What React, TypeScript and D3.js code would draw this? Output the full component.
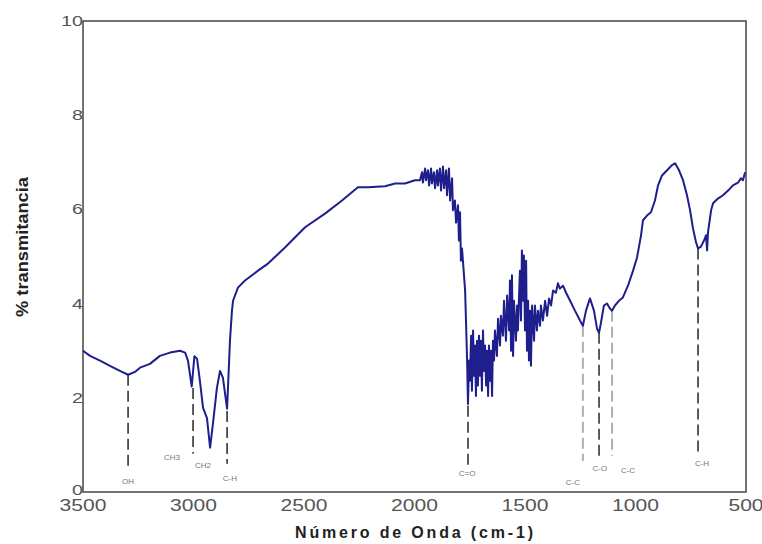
import React from "react";
import * as d3 from "d3";

// spectrum, [wavenumber cm-1, % transmitance]
const highRegion: [number, number][] = [
  [3500, 3.0], [3468, 2.89], [3423, 2.79], [3378, 2.68], [3333, 2.57], [3296, 2.49],
  [3265, 2.55], [3242, 2.64], [3197, 2.72], [3152, 2.89], [3106, 2.96], [3061, 3.0],
  [3038, 2.96], [3025, 2.79], [3008, 2.24], [2996, 2.88], [2984, 2.83], [2971, 2.36],
  [2957, 1.79], [2939, 1.57], [2925, 0.94], [2912, 1.45], [2894, 2.21], [2880, 2.57],
  [2867, 2.43], [2848, 1.77], [2844, 2.21], [2835, 3.21], [2826, 3.85], [2821, 4.06],
  [2799, 4.34], [2767, 4.49], [2708, 4.7], [2663, 4.85], [2586, 5.19], [2495, 5.62],
  [2405, 5.91], [2328, 6.19], [2256, 6.47], [2210, 6.47], [2133, 6.49], [2088, 6.55],
  [2043, 6.55], [1998, 6.62],
];

const carbonylRegion: [number, number][] = [
  [1975, 6.62], [1966, 6.79], [1962, 6.57], [1952, 6.87], [1948, 6.62], [1939, 6.83],
  [1934, 6.51], [1925, 6.87], [1921, 6.55], [1912, 6.79], [1907, 6.45], [1898, 6.83],
  [1894, 6.51], [1885, 6.87], [1880, 6.4], [1871, 6.91], [1866, 6.45], [1857, 6.83],
  [1853, 6.3], [1844, 6.87], [1839, 6.19], [1830, 6.66], [1826, 5.98], [1817, 6.19],
  [1812, 5.72], [1803, 6.09], [1799, 5.34], [1794, 5.94], [1790, 4.91], [1785, 5.17],
  [1776, 4.6], [1771, 4.28], [1767, 3.64], [1762, 2.79], [1758, 1.87], [1753, 2.79],
  [1749, 2.36], [1744, 3.32], [1740, 2.15], [1735, 3.43], [1731, 2.47], [1726, 3.11],
  [1722, 2.04], [1717, 3.21], [1713, 2.26], [1708, 3.32], [1704, 2.47], [1699, 3.21],
  [1695, 2.15], [1690, 3.43], [1686, 2.57], [1681, 3.11], [1676, 2.26], [1672, 3.0],
  [1667, 2.04], [1663, 3.11], [1658, 2.36], [1654, 3.0], [1649, 2.04], [1645, 3.21],
  [1640, 2.79], [1636, 3.43], [1627, 2.89], [1622, 3.68], [1613, 3.11], [1609, 3.74],
  [1600, 3.32], [1595, 4.06], [1586, 3.21], [1581, 4.17], [1572, 3.43], [1568, 4.49],
  [1563, 3.0], [1559, 4.6], [1554, 2.89], [1550, 4.06], [1541, 3.21], [1536, 3.96],
  [1532, 3.43], [1523, 4.7], [1518, 3.64], [1514, 5.13], [1509, 4.06], [1505, 5.02],
  [1500, 3.43], [1495, 4.91], [1491, 3.0], [1486, 4.06], [1482, 2.79], [1477, 3.85],
  [1473, 2.68], [1468, 3.96], [1459, 3.21], [1455, 3.96], [1446, 3.43], [1441, 3.85],
  [1432, 3.53], [1428, 3.96], [1419, 3.64], [1409, 4.06], [1400, 3.74], [1391, 4.11],
  [1382, 3.96], [1373, 4.28], [1360, 4.23], [1351, 4.43],
];

const fingerprintRegion: [number, number][] = [
  [1342, 4.32], [1328, 4.38], [1314, 4.23], [1296, 4.06], [1274, 3.85], [1251, 3.64],
  [1238, 3.53], [1224, 3.85], [1206, 4.11], [1188, 3.85], [1174, 3.47], [1165, 3.38],
  [1156, 3.6], [1143, 3.96], [1129, 4.0], [1115, 3.89], [1106, 3.85], [1093, 3.96],
  [1075, 4.06], [1057, 4.13], [1034, 4.38], [1011, 4.7], [993, 4.98], [975, 5.45],
  [966, 5.77], [948, 5.87], [930, 5.94], [912, 6.19], [898, 6.51], [880, 6.72],
  [857, 6.83], [835, 6.94], [821, 6.98], [803, 6.83], [785, 6.62], [767, 6.3],
  [753, 5.98], [740, 5.6], [726, 5.3], [717, 5.17], [704, 5.21], [690, 5.34],
  [681, 5.45], [676, 5.13], [672, 5.51], [658, 5.98], [649, 6.13], [627, 6.23],
  [604, 6.3], [581, 6.4], [559, 6.51], [536, 6.57], [523, 6.66], [514, 6.62], [504, 6.79],
];

const xTicks = [3500, 3000, 2500, 2000, 1500, 1000, 500];
const yTicks = [0, 2, 4, 6, 8, 10];

// band assignments: dashed marker line and its label
const bandNames = ["OH", "CH3", "CH2", "C-H", "C=O", "C-C", "C-O", "C-C", "C-H"];
const bandLineWn = [3296, 3002, null, 2848, 1758, 1238, 1165, 1106, 717];
const bandLineTop = [2.49, 2.21, null, 1.72, 1.83, 3.53, 3.38, 3.85, 5.17];
const bandLineBottom = [0.45, 0.81, null, 0.6, 0.55, 0.66, 0.77, 0.77, 0.77];
const bandLabelWn = [3296, 3097, 2957, 2835, 1762, 1283, 1161, 1034, 699];
const bandLabelT = [0.21, 0.72, 0.55, 0.28, 0.38, 0.19, 0.49, 0.45, 0.6];
const lightBands = [5, 7];

const W = 762;
const H = 544;
const font = "Arial, 'Liberation Sans', sans-serif";

export default function App() {
  const x = d3.scaleLinear().domain([3500, 500]).range([83, 746]);
  const y = d3.scaleLinear().domain([0, 10]).range([492, 21]);

  const spectrum = [...highRegion, ...carbonylRegion, ...fingerprintRegion];
  const line = d3
    .line<[number, number]>()
    .x((d) => x(d[0]))
    .y((d) => y(d[1]));

  return (
    <svg
      width={W}
      height={H}
      style={{ position: "absolute", left: 0, top: 0, background: "#fff" }}
      fontFamily={font}
    >
      {/* frame */}
      <rect
        x={x(3500)}
        y={y(10)}
        width={x(500) - x(3500)}
        height={y(0) - y(10)}
        fill="none"
        stroke="#444"
        strokeWidth={1.5}
      />

      {/* band markers */}
      {bandNames.map((name, i) => {
        const wn = bandLineWn[i];
        const grey = lightBands.includes(i);
        return (
          <g key={i}>
            {wn !== null && (
              <line
                x1={x(wn)}
                x2={x(wn)}
                y1={y(bandLineTop[i] as number)}
                y2={y(bandLineBottom[i] as number)}
                stroke={grey ? "#b0b0b0" : "#333"}
                strokeWidth={grey ? 2 : 1.6}
                strokeDasharray="11,5"
              />
            )}
            <text
              x={x(bandLabelWn[i])}
              y={y(bandLabelT[i])}
              textAnchor="middle"
              dominantBaseline="middle"
              fontSize={8}
              fill="#777"
            >
              {name}
            </text>
          </g>
        );
      })}

      {/* spectrum */}
      <path
        d={line(spectrum) ?? ""}
        fill="none"
        stroke="#1e1e8c"
        strokeWidth={2}
        strokeLinejoin="round"
      />

      {/* x tick labels */}
      {xTicks.map((t) => (
        <text
          key={t}
          x={x(t)}
          y={511}
          textAnchor="middle"
          fontSize={16}
          fill="#555"
          textLength={String(t).length * 11.7}
          lengthAdjust="spacingAndGlyphs"
        >
          {t}
        </text>
      ))}

      {/* y tick labels */}
      {yTicks.map((t) => (
        <text
          key={t}
          x={83}
          y={y(t) + (t === 0 ? 3 : 5)}
          textAnchor="end"
          fontSize={15}
          fill="#555"
          textLength={String(t).length * 11}
          lengthAdjust="spacingAndGlyphs"
        >
          {t}
        </text>
      ))}

      {/* axis titles */}
      <text
        x={414}
        y={538}
        textAnchor="middle"
        fontSize={16}
        fontWeight="bold"
        fill="#222"
        textLength={238}
        lengthAdjust="spacing"
      >
        Número de Onda (cm-1)
      </text>
      <text
        transform={`translate(28,247) rotate(-90)`}
        textAnchor="middle"
        fontSize={17}
        fontWeight="bold"
        fill="#222"
        textLength={140}
        lengthAdjust="spacingAndGlyphs"
      >
        % transmitancia
      </text>
    </svg>
  );
}
